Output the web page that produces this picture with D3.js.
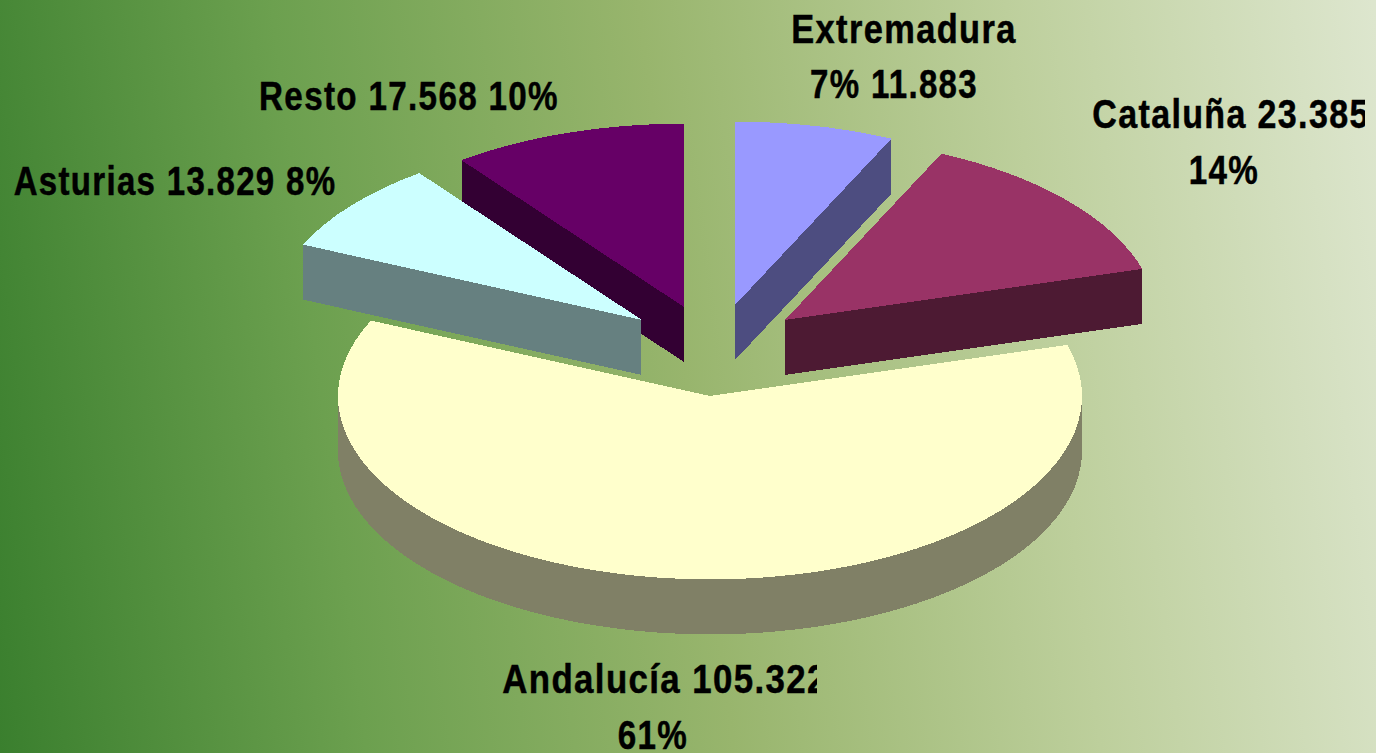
<!DOCTYPE html>
<html>
<head>
<meta charset="utf-8">
<script src="https://cdn.jsdelivr.net/npm/d3@7"></script>
<style>
  html, body { margin: 0; padding: 0; overflow: hidden; }
  svg { display: block; }
  text { font-family: "Liberation Sans", Arial, sans-serif; font-weight: bold; font-size: 40px; fill: #000; stroke: #000; stroke-width: 0.5px; }
</style>
</head>
<body>
<div id="chart"></div>
<script>
// Data, clockwise from 12 o'clock
const regions = ["Extremadura", "Cataluña", "Andalucía", "Asturias", "Resto"];
const amounts = [11883, 23385, 105322, 13829, 17568];
const topColors = ["#9999FF", "#993366", "#FFFFCC", "#CCFFFF", "#660066"];
const wallColors = ["#4D4D80", "#4D1A33", "#808066", "#668080", "#330033"];

const W = 1376, H = 753;
const cx = 710, cy = 396;
const radius = 372, tilt = 0.493, depth = 55;

// how far each slice is pulled out of the pie (px, on screen)
const explode = [[25, -91], [75, -76], [0, 0], [-68, -76], [-26, -89]];
// back to front
const drawOrder = [2, 4, 3, 0, 1];

const total = d3.sum(amounts);
const es = d3.formatLocale({ decimal: ",", thousands: ".", grouping: [3], currency: ["", "€"] });
const fmtAmount = es.format(",d");
const fmtShare = d => Math.round(d / total * 100) + "%";

const svg = d3.select("#chart").append("svg").attr("width", W).attr("height", H);
const defs = svg.append("defs");

// Background, runs from the bottom left corner
const bg = defs.append("linearGradient")
    .attr("id", "bg")
    .attr("gradientUnits", "userSpaceOnUse")
    .attr("x1", 0).attr("y1", 753)
    .attr("x2", 1445).attr("y2", 569);
bg.selectAll("stop")
    .data([[0, "#3A7F2E"], [0.25, "#6CA04F"], [0.5, "#98B56D"], [0.75, "#BDCF9C"], [1, "#DDE6CE"]])
    .enter().append("stop")
    .attr("offset", d => d[0])
    .attr("stop-color", d => d[1]);
svg.append("rect").attr("width", W).attr("height", H).attr("fill", "url(#bg)");

// Pie
const slices = d3.pie().sort(null)(amounts);
const arc = d3.arc().innerRadius(0).outerRadius(radius);

const pie = svg.append("g").attr("shape-rendering", "crispEdges");
drawOrder.forEach(i => {
    const g = pie.append("g").attr("class", "slice");
    // side wall: the slice shape stacked downward
    g.selectAll("path.wall")
        .data(d3.range(depth, 0, -1))
        .enter().append("path")
        .attr("class", "wall")
        .attr("d", arc(slices[i]))
        .attr("fill", wallColors[i])
        .attr("transform", d => `translate(${cx + explode[i][0]}, ${cy + explode[i][1] + d}) scale(1, ${tilt})`);
    g.append("path")
        .attr("d", arc(slices[i]))
        .attr("fill", topColors[i])
        .attr("transform", `translate(${cx + explode[i][0]}, ${cy + explode[i][1]}) scale(1, ${tilt})`);
});

// Labels, some of them are cut off in the original
const labelLines = [
    [regions[0], `${fmtShare(amounts[0])} ${fmtAmount(amounts[0])}`],
    [`${regions[1]} ${fmtAmount(amounts[1])}`, fmtShare(amounts[1])],
    [`${regions[2]} ${fmtAmount(amounts[2])}`, fmtShare(amounts[2])],
    [`${regions[3]} ${fmtAmount(amounts[3])} ${fmtShare(amounts[3])}`],
    [`${regions[4]} ${fmtAmount(amounts[4])} ${fmtShare(amounts[4])}`]
];
// x centre, baseline, horizontal squeeze
const labelPos = [
    [[904, 43, 0.86], [894, 98, 0.825]],
    [[1231, 128, 0.85], [1224, 184, 0.83]],
    [[665, 693, 0.87], [653, 749, 0.83]],
    [[175, 195, 0.825]],
    [[409, 110, 0.83]]
];
const clipRight = [null, 1365, 817, null, null];

clipRight.forEach((x, i) => {
    if (x === null) return;
    defs.append("clipPath").attr("id", `clip${i}`)
        .append("rect").attr("x", 0).attr("y", 0).attr("width", x).attr("height", H);
});

labelLines.forEach((lines, i) => {
    const g = svg.append("g");
    if (clipRight[i] !== null) g.attr("clip-path", `url(#clip${i})`);
    lines.forEach((line, j) => {
        const [x, y, sx] = labelPos[i][j];
        g.append("text")
            .attr("text-anchor", "middle")
            .attr("letter-spacing", "1.6px")
            .attr("transform", `translate(${x}, ${y}) scale(${sx}, 1)`)
            .text(line);
    });
});
</script>
</body>
</html>
